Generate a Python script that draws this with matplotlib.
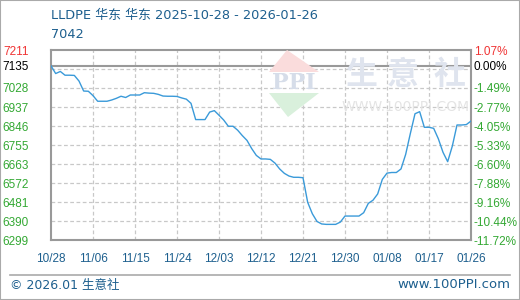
import matplotlib.pyplot as plt
import pandas as pd
from matplotlib.patches import Polygon, Rectangle

plt.rcParams["font.family"] = ["DejaVu Sans", "Noto Sans CJK SC"]

TITLE = "LLDPE 华东 华东 2025-10-28 - 2026-01-26"
SUBTITLE = "7042"
BASE_PRICE = 7135

# day offset from 2025-10-28 and price
day_offsets = list(range(91))
prices = [
    7135, 7098, 7108, 7090, 7090, 7089, 7062, 7014, 7013, 6992,
    6965, 6965, 6965, 6971, 6979, 6989, 6983, 6995, 6995, 6995,
    7006, 7004, 7003, 6998, 6990, 6989, 6989, 6988, 6981, 6975,
    6955, 6877, 6877, 6877, 6913, 6920, 6898, 6875, 6845, 6845,
    6826, 6800, 6777, 6738, 6705, 6688, 6688, 6686, 6668, 6640,
    6619, 6606, 6600, 6600, 6598, 6480, 6425, 6388, 6376, 6374,
    6374, 6374, 6385, 6414, 6414, 6414, 6414, 6430, 6475, 6490,
    6520, 6590, 6620, 6623, 6623, 6640, 6710, 6810, 6905, 6915,
    6840, 6840, 6835, 6785, 6720, 6675, 6750, 6851, 6851, 6853,
    6870,
]

left_labels = ["7211", "7135", "7028", "6937", "6846", "6755", "6663", "6572", "6481", "6390", "6299"]
right_labels = ["1.07%", "0.00%", "-1.49%", "-2.77%", "-4.05%", "-5.33%", "-6.60%",
                "-7.88%", "-9.16%", "-10.44%", "-11.72%"]
y_top, y_bottom = 7211, 6299

BLUE_TEXT = "#1d5f8e"
GREEN = "#33a833"
RED = "#f03333"
LINE = "#3a9ad9"
TICK_FONT = "Liberation Sans"

start = pd.Timestamp("2025-10-28")
dates = [start + pd.Timedelta(days=d) for d in day_offsets]

fig = plt.figure(figsize=(5.2, 3.0), dpi=100)
fig.patches.append(Rectangle((0, 0), 1, 1, transform=fig.transFigure, fill=False,
                             edgecolor="#aaaaaa", linewidth=1.5))

ax = fig.add_axes([51 / 520, 60 / 300, 420 / 520, 190 / 300])
ax.set_ylim(y_bottom, y_top)
ax.set_xlim(dates[0], dates[-1])

# grid lines
step = (y_top - y_bottom) / 10
grid_vals = [y_top - i * step for i in range(11)]
for v in grid_vals[1:-1]:
    ax.axhline(v, color="#c8c8c8", linestyle=(0, (3, 2)), linewidth=0.9, zorder=1)
tick_dates = [start + pd.Timedelta(days=9 * i) for i in range(11)]
for d in tick_dates[1:-1]:
    ax.axvline(d, color="#c8c8c8", linestyle=(0, (3, 2)), linewidth=0.9, zorder=1)
ax.axhline(BASE_PRICE, color="#999999", linewidth=1.5, zorder=2)


# watermark (figure pixel coords)
def px(x, y):
    return (x / 520, 1 - y / 300)


fig.patches.append(Polygon([px(287, 50), px(269, 72), px(319, 72)], closed=True,
                           transform=fig.transFigure, facecolor="#fadcdc", edgecolor="none", zorder=0))
fig.patches.append(Polygon([px(269, 93), px(319, 93), px(288, 117)], closed=True,
                           transform=fig.transFigure, facecolor="#d9f0dc", edgecolor="none", zorder=0))
fig.text(*px(294, 83), "PPI", fontsize=16, family="DejaVu Serif", fontweight="bold",
         color="#d6dde9", ha="center", va="center", zorder=0)
for cx, ch in zip([361, 403, 450], "生意社"):
    fig.text(*px(cx, 75), ch, fontsize=23, family="Noto Sans CJK SC", fontweight="bold",
             color="#dfe4ee", ha="center", va="center", zorder=0)
fig.text(*px(406, 107), "WWW.100PPI.COM", fontsize=10, color="#e4e4e4",
         ha="center", va="center", zorder=0)

ax.patch.set_alpha(0)
ax.plot(dates, prices, color=LINE, linewidth=1.0, zorder=3)

for side in ["left", "right", "top", "bottom"]:
    ax.spines[side].set_color("#999999")
    ax.spines[side].set_linewidth(1.5)

label_pos = [y_top, BASE_PRICE] + grid_vals[2:]
ax.set_yticks(label_pos)
ax.set_yticklabels(left_labels, family=TICK_FONT)
ax.tick_params(axis="y", length=0, pad=16, labelsize=8.5)
for i, t in enumerate(ax.get_yticklabels()):
    t.set_color(RED if i == 0 else ("black" if i == 1 else GREEN))

ax.set_xticks(tick_dates)
ax.set_xticklabels([d.strftime("%m/%d") for d in tick_dates], family=TICK_FONT)
ax.tick_params(axis="x", length=0, pad=9, labelsize=8.5, labelcolor=BLUE_TEXT)

ax2 = ax.twinx()
ax2.set_ylim(y_bottom, y_top)
ax2.set_yticks(label_pos)
ax2.set_yticklabels(right_labels, family=TICK_FONT)
ax2.tick_params(axis="y", length=0, pad=2, labelsize=8.5)
for side in ["left", "right", "top", "bottom"]:
    ax2.spines[side].set_visible(False)
for i, t in enumerate(ax2.get_yticklabels()):
    t.set_color(RED if i == 0 else ("black" if i == 1 else GREEN))

fig.text(*px(51, 16), TITLE, fontsize=9.3, color=BLUE_TEXT, ha="left", va="center")
fig.text(*px(51, 35), SUBTITLE, fontsize=9.3, color=BLUE_TEXT, ha="left", va="center")

fig.add_artist(plt.Line2D([10 / 520, 510 / 520], [1 - 275 / 300] * 2, transform=fig.transFigure,
                          color="#aaaaaa", linewidth=1.2))
fig.text(*px(10, 285), "© 2026.01 生意社", fontsize=9, color=BLUE_TEXT, ha="left", va="center")
fig.text(*px(510, 285), "www.100PPI.com", fontsize=9.5, color=BLUE_TEXT, ha="right", va="center")

fig.savefig("out.png", dpi=100)
